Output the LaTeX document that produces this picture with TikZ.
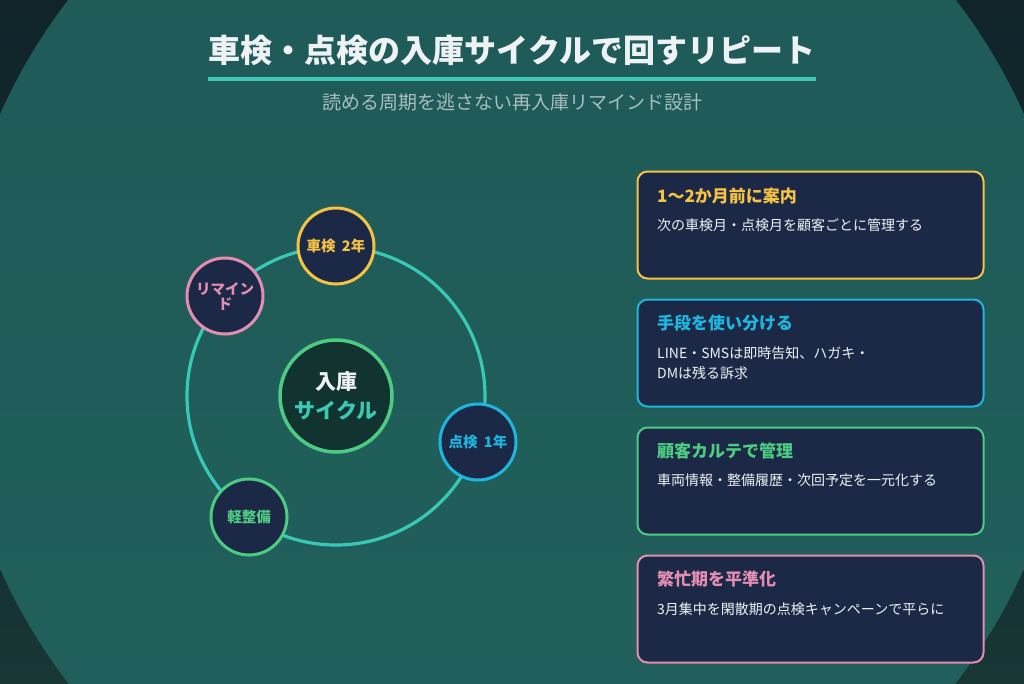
\documentclass[tikz,border=0pt]{standalone}
\usepackage{fontspec}
\setmainfont{Noto Sans CJK JP}
\definecolor{bgtop}{HTML}{10242A}
\definecolor{bgbot}{HTML}{173634}
\definecolor{disktop}{HTML}{1E5956}
\definecolor{diskbot}{HTML}{22615D}
\definecolor{ringc}{HTML}{37C9B6}
\definecolor{navy}{HTML}{1C2946}
\definecolor{hubfill}{HTML}{123430}
\definecolor{cgreen}{HTML}{4ECB82}
\definecolor{cyellow}{HTML}{F5C244}
\definecolor{ccyan}{HTML}{1EB6DF}
\definecolor{cpink}{HTML}{E48DB3}
\definecolor{txtw}{HTML}{EEF2F5}
\definecolor{subc}{HTML}{A9BEC0}
\definecolor{tealtxt}{HTML}{3CC8B4}
\tikzset{
  sat/.style={circle, minimum size=76pt, inner sep=0pt, line width=3pt, fill=navy, font=\fontsize{14.5}{15}\selectfont\bfseries, align=center},
  card/.style={rounded corners=10pt, line width=2pt, fill=navy, minimum width=346pt, minimum height=107pt, inner sep=0pt},
  cardtitle/.style={anchor=west, inner sep=0pt, font=\fontsize{17}{20}\selectfont\bfseries},
  cardbody/.style={anchor=north west, inner sep=0pt, text=txtw, font=\fontsize{14}{20}\selectfont, align=left},
  ringline/.style={draw=ringc, line width=3.2pt},
}
\begin{document}
\begin{tikzpicture}[x=1pt,y=-1pt]
\useasboundingbox (0,0) rectangle (1024,683);
\begin{scope}
\clip (0,0) rectangle (1024,683);
\shade[top color=bgtop, bottom color=bgbot] (0,0) rectangle (1024,683);
\shade[top color=disktop, bottom color=diskbot] (512,341.5) circle[radius=560];
\end{scope}
% title
\node[text=txtw, inner sep=0pt, font=\fontsize{32}{36}\selectfont\bfseries] (title) at (512,50) {車検・点検の入庫サイクルで回すリピート};
\draw[draw=tealtxt, line width=4pt] (208,79) -- (816,79);
\node[text=subc, inner sep=0pt, font=\fontsize{19}{22}\selectfont] (sub) at (512,102) {読める周期を逃さない再入庫リマインド設計};
% ring
\coordinate (ringc) at (336,396);
\draw[ringline] (ringc) circle[radius=149];
\node[circle, minimum size=112pt, inner sep=0pt, line width=3.5pt, draw=cgreen, fill=hubfill, align=center,
      font=\fontsize{21}{29}\selectfont\bfseries] (hub) at (ringc) {\textcolor{txtw}{入庫}\\\textcolor{tealtxt}{サイクル}};
\node[sat, draw=cyellow, text=cyellow] (s1) at (336,246) {車検\hspace{3pt} 2年};
\node[sat, draw=ccyan, text=ccyan] (s2) at (478,442) {点検\hspace{3pt} 1年};
\node[sat, draw=cgreen, text=cgreen] (s3) at (249,517) {軽整備};
\node[sat, draw=cpink, text=cpink] (s4) at (225,296) {リマイン\\ド};
% cards
\node[card, draw=cyellow] (c1) at (810.5,225) {};
\node[cardtitle, text=cyellow] (c1t) at (657,196) {1〜2か月前に案内};
\node[cardbody] (c1b) at (657,218) {次の車検月・点検月を顧客ごとに管理する};
\node[card, draw=ccyan] (c2) at (810.5,353) {};
\node[cardtitle, text=ccyan] (c2t) at (657,323) {手段を使い分ける};
\node[cardbody] (c2b) at (657,346.5) {LINE・SMSは即時告知、ハガキ・\\DMは残る訴求};
\node[card, draw=cgreen] (c3) at (810.5,481) {};
\node[cardtitle, text=cgreen] (c3t) at (657,451) {顧客カルテで管理};
\node[cardbody] (c3b) at (657,474) {車両情報・整備履歴・次回予定を一元化する};
\node[card, draw=cpink] (c4) at (810.5,609) {};
\node[cardtitle, text=cpink] (c4t) at (657,579) {繁忙期を平準化};
\node[cardbody] (c4b) at (657,602) {3月集中を閑散期の点検キャンペーンで平らに};
\end{tikzpicture}
\end{document}
